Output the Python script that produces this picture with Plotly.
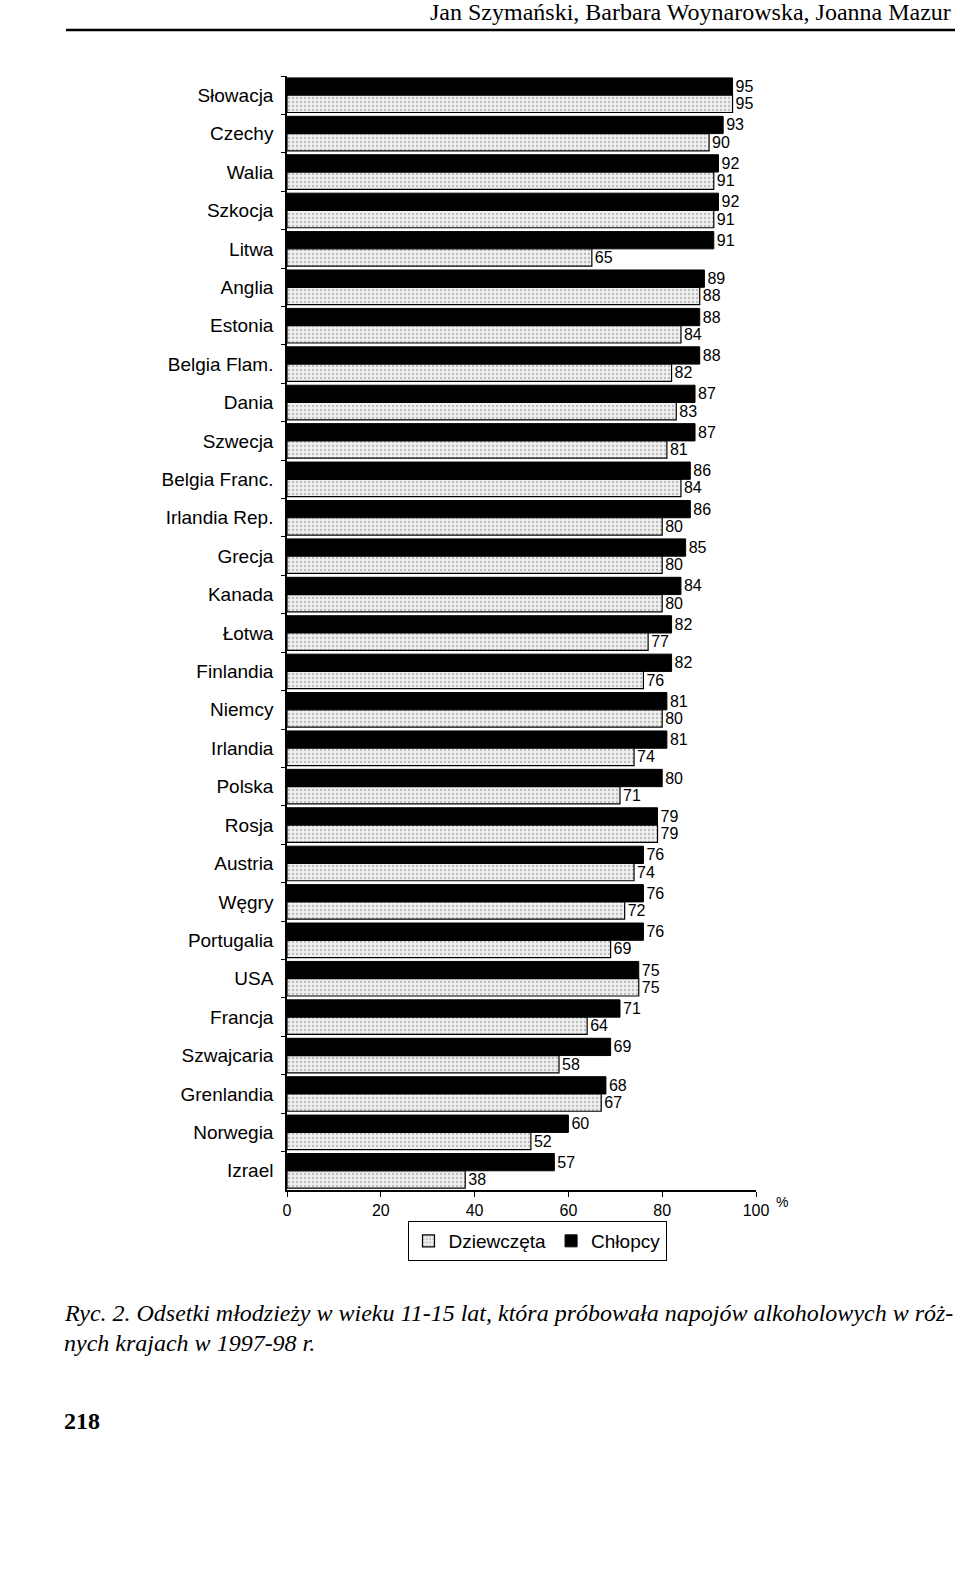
import plotly.graph_objects as go

countries = ["Słowacja", "Czechy", "Walia", "Szkocja", "Litwa", "Anglia", "Estonia",
             "Belgia Flam.", "Dania", "Szwecja", "Belgia Franc.", "Irlandia Rep.", "Grecja",
             "Kanada", "Łotwa", "Finlandia", "Niemcy", "Irlandia", "Polska", "Rosja",
             "Austria", "Węgry", "Portugalia", "USA", "Francja", "Szwajcaria", "Grenlandia",
             "Norwegia", "Izrael"]
boys = [95, 93, 92, 92, 91, 89, 88, 88, 87, 87, 86, 86, 85, 84, 82, 82, 81, 81, 80, 79,
        76, 76, 76, 75, 71, 69, 68, 60, 57]
girls = [95, 90, 91, 91, 65, 88, 84, 82, 83, 81, 84, 80, 80, 80, 77, 76, 80, 74, 71, 79,
         74, 72, 69, 75, 64, 58, 67, 52, 38]
x_ticks = [0, 20, 40, 60, 80, 100]

W, H = 960, 1577
def px(x): return x / W
def py(y): return 1 - y / H

fig = go.Figure()
fig.add_trace(go.Bar(
    y=countries, x=boys, orientation="h", name="Chłopcy",
    marker=dict(color="black", line=dict(color="black", width=1)),
    text=[str(v) for v in boys], textposition="outside",
    textfont=dict(family="Liberation Sans, Arial", size=16, color="black"),
    cliponaxis=False, legendrank=2, constraintext="none",
))
fig.add_trace(go.Bar(
    y=countries, x=girls, orientation="h", name="Dziewczęta",
    marker=dict(color="#e6e6e6", line=dict(color="black", width=1.2),
                pattern=dict(shape=".", fgcolor="#888888", bgcolor="#efefef",
                             size=4, solidity=0.25)),
    text=[str(v) for v in girls], textposition="outside",
    textfont=dict(family="Liberation Sans, Arial", size=16, color="black"),
    cliponaxis=False, legendrank=1, constraintext="none",
))

fig.update_layout(
    width=W, height=H, autosize=False, paper_bgcolor="white", plot_bgcolor="white",
    margin=dict(l=0, r=0, t=0, b=0, pad=0, autoexpand=False),
    barmode="group", bargap=0.1, bargroupgap=0.0,
    font=dict(family="Liberation Sans, Arial", color="black"),
    xaxis=dict(domain=[px(287), px(756)], range=[0, 100], tickvals=x_ticks,
               ticktext=[str(v) for v in x_ticks], showline=True, linecolor="black",
               linewidth=1.5, ticks="outside", ticklen=5, tickcolor="black",
               showgrid=False, zeroline=False, tickfont=dict(size=16),
               anchor="y", automargin=False),
    yaxis=dict(domain=[py(1190), py(76)], autorange="reversed", showline=True,
               linecolor="black", linewidth=1.5, ticks="outside", ticklen=4,
               tickson="boundaries", tickcolor="black", showgrid=False,
               tickfont=dict(size=19), ticklabelstandoff=8, automargin=False),
    legend=dict(orientation="h", x=px(537), xanchor="center", y=py(1241), yanchor="middle",
                bordercolor="black", borderwidth=1, font=dict(size=19),
                itemwidth=30, tracegroupgap=0, bgcolor="white"),
    showlegend=True,
)

fig.add_annotation(x=100, xref="x", y=py(1212), yref="paper", text="%",
                   showarrow=False, xanchor="left", yanchor="bottom",
                   xshift=18, font=dict(size=14))
fig.add_annotation(x=px(953), y=py(12), xref="paper", yref="paper",
                   text="Jan Szymański, Barbara Woynarowska, Joanna Mazur",
                   showarrow=False, xanchor="right", yanchor="middle",
                   font=dict(family="Liberation Serif, Times New Roman", size=24))
fig.add_shape(type="line", xref="paper", yref="paper", x0=px(66), x1=px(955),
              y0=py(30), y1=py(30), line=dict(color="black", width=2.5))
fig.add_annotation(x=px(62), y=py(1313), xref="paper", yref="paper",
                   text="<i>Ryc. 2. Odsetki młodzieży w wieku 11-15 lat, która próbowała napojów alkoholowych w róż-</i>",
                   showarrow=False, xanchor="left", yanchor="middle",
                   font=dict(family="Liberation Serif, Times New Roman", size=24))
fig.add_annotation(x=px(62), y=py(1343), xref="paper", yref="paper",
                   text="<i>nych krajach w 1997-98 r.</i>",
                   showarrow=False, xanchor="left", yanchor="middle",
                   font=dict(family="Liberation Serif, Times New Roman", size=24))
fig.add_annotation(x=px(62), y=py(1421), xref="paper", yref="paper",
                   text="<b>218</b>", showarrow=False, xanchor="left", yanchor="middle",
                   font=dict(family="Liberation Serif, Times New Roman", size=24))

fig.write_html("out.html",
               config={"displayModeBar": False, "responsive": False},
               post_script="document.documentElement.style.overflow='hidden';"
                           "document.body.style.margin='0';document.body.style.overflow='hidden';")
